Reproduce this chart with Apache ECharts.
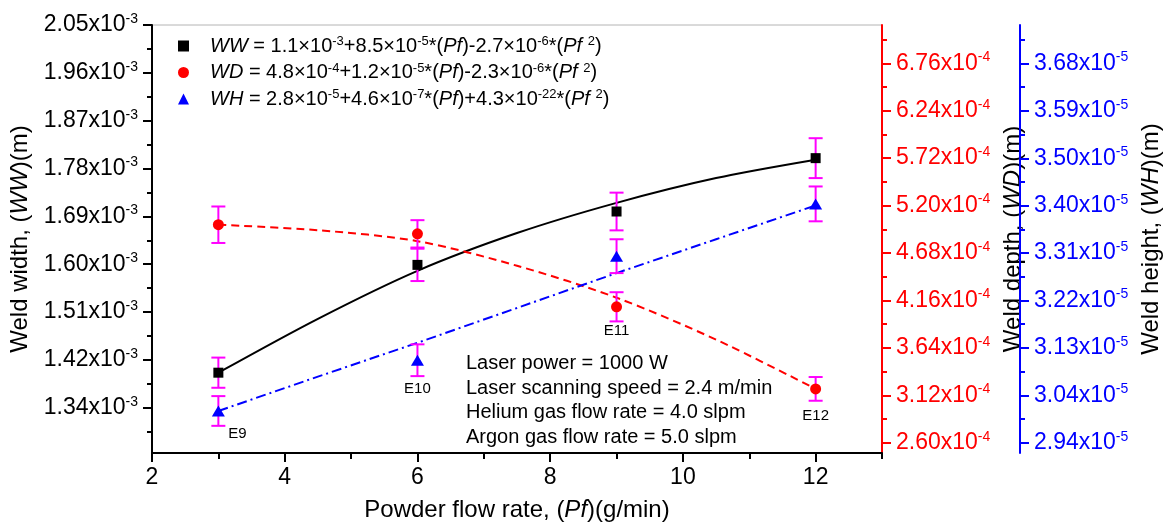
<!DOCTYPE html>
<html>
<head>
<meta charset="utf-8">
<script src="https://cdn.jsdelivr.net/npm/echarts@6/dist/echarts.min.js"></script>
<style>
  html, body { margin: 0; padding: 0; background: #fff; }
  #chart { width: 1163px; height: 522px; }
</style>
</head>
<body>
<div id="chart"></div>
<script>
// powder flow rate (g/min) of the four runs
const flowRate = [3, 6, 9, 12];
const runLabels = ['E9', 'E10', 'E11', 'E12'];
const runLabelHost = ['WH', 'WH', 'WD', 'WD'];

// measured bead sizes (m) and error half-widths
const weldWidth = [1.405e-3, 1.605e-3, 1.704e-3, 1.803e-3];
const weldWidthErr = [0.028e-3, 0.030e-3, 0.035e-3, 0.037e-3];
const weldDepth = [4.99e-4, 4.89e-4, 4.09e-4, 3.19e-4];
const weldDepthErr = [0.20e-4, 0.15e-4, 0.16e-4, 0.13e-4];
const weldHeight = [3.002e-5, 3.101e-5, 3.304e-5, 3.406e-5];
const weldHeightErr = [0.029e-5, 0.031e-5, 0.033e-5, 0.034e-5];

// regression curves
const fitX = [3, 4.5, 6, 7.5, 9, 10.5, 12];
const wwFit = [1.405e-3, 1.505e-3, 1.594e-3, 1.664e-3, 1.720e-3, 1.766e-3, 1.800e-3];
const wdFit = [4.99e-4, 4.93e-4, 4.81e-4, 4.54e-4, 4.19e-4, 3.73e-4, 3.19e-4];
const whFit = [3.002e-5, 3.069e-5, 3.135e-5, 3.203e-5, 3.271e-5, 3.337e-5, 3.403e-5];

// tick labels
const xTicks = [2, 4, 6, 8, 10, 12];
const wwTicks = ['1.34', '1.42', '1.51', '1.60', '1.69', '1.78', '1.87', '1.96', '2.05'];
const wdTicks = ['2.60', '3.12', '3.64', '4.16', '4.68', '5.20', '5.72', '6.24', '6.76'];
const whTicks = ['2.94', '3.04', '3.13', '3.22', '3.31', '3.40', '3.50', '3.59', '3.68'];

const legendNames = ['WW', 'WD', 'WH'];
const legendIcons = ['rect', 'circle', 'triangle'];
const legendFormulas = [
  '{p| }{i|WW}{t| = 1.1×10}{s|-3}{t|+8.5×10}{s|-5}{t|*(}{i|Pf}{t|)-2.7×10}{s|-6}{t|*(}{i|Pf }{s|2}{t|)}',
  '{p| }{i|WD}{t| = 4.8×10}{s|-4}{t|+1.2×10}{s|-5}{t|*(}{i|Pf}{t|)-2.3×10}{s|-6}{t|*(}{i|Pf }{s|2}{t|)}',
  '{p| }{i|WH}{t| = 2.8×10}{s|-5}{t|+4.6×10}{s|-7}{t|*(}{i|Pf}{t|)+4.3×10}{s|-22}{t|*(}{i|Pf }{s|2}{t|)}'
];
const conditions = [
  'Laser power = 1000 W',
  'Laser scanning speed = 2.4 m/min',
  'Helium gas flow rate = 4.0 slpm',
  'Argon gas flow rate = 5.0 slpm'
];

const FONT = '"Liberation Sans", Arial, sans-serif';
const RED = '#ff0000';
const BLUE = '#0000ff';
const MAGENTA = '#ff00ff';

function evenTicks(labels, first, step) {
  return labels.map((_, k) => Number((first + k * step).toPrecision(10)));
}

// one y axis drawn as a labelled axis plus an overlay carrying the short minor ticks
function yAxisPair(cfg) {
  const major = evenTicks(cfg.labels, cfg.first, cfg.step);
  const minor = [major[0] - cfg.step / 2].concat(major.map(v => v + cfg.step / 2))
    .filter(v => v >= cfg.min && v <= cfg.max);
  const main = {
    type: 'value', position: cfg.position, offset: cfg.offset,
    min: cfg.min, max: cfg.max,
    name: cfg.name, nameLocation: 'middle', nameRotate: 90, nameGap: cfg.nameGap,
    nameTextStyle: {
      rich: {
        n: { fontFamily: FONT, fontSize: 24, color: '#000' },
        i: { fontFamily: FONT, fontSize: 24, color: '#000', fontStyle: 'italic' }
      }
    },
    axisLine: { show: true, onZero: false, lineStyle: { color: cfg.color, width: 2 } },
    axisTick: { show: true, customValues: major, length: 9, lineStyle: { color: cfg.color, width: 2 } },
    axisLabel: {
      customValues: major, margin: 14,
      formatter: v => {
        const k = Math.round((v - cfg.first) / cfg.step);
        return cfg.labels[k] ? '{b|' + cfg.labels[k] + 'x10}{s|' + cfg.exp + '}' : '';
      },
      rich: {
        b: { fontFamily: FONT, fontSize: 23, lineHeight: 26, color: cfg.color },
        s: { fontFamily: FONT, fontSize: 14, color: cfg.color, verticalAlign: 'top' }
      }
    },
    splitLine: { show: false }
  };
  const over = {
    type: 'value', position: cfg.position, offset: cfg.offset,
    min: cfg.min, max: cfg.max,
    axisLine: { show: false, onZero: false },
    axisTick: { show: true, customValues: minor, length: 5, lineStyle: { color: cfg.color, width: 2 } },
    axisLabel: { show: false },
    splitLine: { show: false }
  };
  return [main, over];
}

function errorSeries(name, yIndex, values, errs) {
  return {
    name: name, type: 'custom', yAxisIndex: yIndex, z: 3,
    data: flowRate.map((x, i) => [x, values[i] - errs[i], values[i] + errs[i]]),
    renderItem: (params, api) => {
      const lo = api.coord([api.value(0), api.value(1)]);
      const hi = api.coord([api.value(0), api.value(2)]);
      const w = 7;
      const style = { stroke: MAGENTA, lineWidth: 2 };
      return {
        type: 'group',
        children: [
          { type: 'line', shape: { x1: lo[0], y1: lo[1], x2: hi[0], y2: hi[1] }, style: style },
          { type: 'line', shape: { x1: lo[0] - w, y1: lo[1], x2: lo[0] + w, y2: lo[1] }, style: style },
          { type: 'line', shape: { x1: hi[0] - w, y1: hi[1], x2: hi[0] + w, y2: hi[1] }, style: style }
        ]
      };
    }
  };
}

// label placement for E9..E12: [horizontal shift, distance below marker]
const runLabelPlace = [[19, 10], [0, 16], [0, 11], [0, 14]];

function pointData(key, values) {
  return flowRate.map((x, i) => {
    const item = { value: [x, values[i]] };
    if (runLabelHost[i] === key) {
      item.label = {
        show: true, position: 'bottom', formatter: runLabels[i],
        distance: runLabelPlace[i][1], offset: [runLabelPlace[i][0], 0],
        fontFamily: FONT, fontSize: 15, color: '#000'
      };
    }
    return item;
  });
}

const chart = echarts.init(document.getElementById('chart'));

chart.setOption({
  animation: false,
  backgroundColor: '#fff',
  grid: {
    left: 152, right: 281, top: 25, bottom: 69,
    outerBoundsMode: 'none',
    show: true, borderColor: '#b4b4b4', borderWidth: 1
  },
  legend: {
    data: legendNames.map((n, i) => ({ name: n, icon: legendIcons[i] })),
    orient: 'vertical',
    left: 178, top: 35, padding: 0,
    itemWidth: 11, itemHeight: 11, itemGap: 5.5,
    formatter: name => legendFormulas[legendNames.indexOf(name)],
    textStyle: {
      rich: {
        p: { width: 16, fontSize: 20 },
        t: { fontFamily: FONT, fontSize: 20, lineHeight: 22, color: '#000' },
        i: { fontFamily: FONT, fontSize: 20, lineHeight: 22, color: '#000', fontStyle: 'italic' },
        s: { fontFamily: FONT, fontSize: 13, color: '#000', verticalAlign: 'top' }
      }
    }
  },
  xAxis: [
    {
      type: 'value', position: 'bottom', min: 2, max: 13,
      name: '{n|Powder flow rate, (}{i|Pf}{n|)(g/min)}',
      nameLocation: 'middle', nameGap: 45,
      nameTextStyle: {
        rich: {
          n: { fontFamily: FONT, fontSize: 24, color: '#000' },
          i: { fontFamily: FONT, fontSize: 24, color: '#000', fontStyle: 'italic' }
        }
      },
      axisLine: { onZero: false, lineStyle: { color: '#000', width: 2 } },
      axisTick: { customValues: xTicks, length: 9, lineStyle: { color: '#000', width: 2 } },
      axisLabel: { customValues: xTicks, margin: 13, fontFamily: FONT, fontSize: 23, color: '#000' },
      splitLine: { show: false }
    },
    {
      type: 'value', position: 'bottom', min: 2, max: 13,
      axisLine: { show: false, onZero: false },
      axisTick: { customValues: xTicks.map(v => v + 1), length: 6, lineStyle: { color: '#000', width: 2 } },
      axisLabel: { show: false },
      splitLine: { show: false }
    }
  ],
  yAxis: [].concat(
    yAxisPair({
      position: 'left', offset: 0, min: 1.256e-3, max: 2.05e-3,
      first: 1.34e-3, step: 0.08875e-3, labels: wwTicks, exp: '-3', color: '#000',
      name: '{n|Weld width, (}{i|WW}{n|)(m)}', nameGap: 116
    }),
    yAxisPair({
      position: 'right', offset: 0, min: 2.487e-4, max: 7.18e-4,
      first: 2.60e-4, step: 0.52e-4, labels: wdTicks, exp: '-4', color: RED,
      name: '{n|Weld depth, (}{i|WD}{n|)(m)}', nameGap: 106
    }),
    yAxisPair({
      position: 'right', offset: 138, min: 2.92e-5, max: 3.755e-5,
      first: 2.94e-5, step: 0.0925e-5, labels: whTicks, exp: '-5', color: BLUE,
      name: '{n|Weld height, (}{i|WH}{n|)(m)}', nameGap: 119
    })
  ),
  graphic: [{
    type: 'text', left: 466, top: 351,
    style: {
      text: conditions.join('\n'),
      fontFamily: FONT, fontSize: 20, lineHeight: 24.7, fill: '#000'
    }
  }],
  series: [
    {
      name: 'WW fit', type: 'line', yAxisIndex: 0, z: 2, smooth: 0.3, showSymbol: false,
      data: fitX.map((x, i) => [x, wwFit[i]]),
      lineStyle: { color: '#000', width: 2 }
    },
    {
      name: 'WD fit', type: 'line', yAxisIndex: 2, z: 2, smooth: 0.3, showSymbol: false,
      data: fitX.map((x, i) => [x, wdFit[i]]),
      lineStyle: { color: RED, width: 2, type: [8, 5] }
    },
    {
      name: 'WH fit', type: 'line', yAxisIndex: 4, z: 2, showSymbol: false,
      data: fitX.map((x, i) => [x, whFit[i]]),
      lineStyle: { color: BLUE, width: 2, type: [10, 4, 2, 4] }
    },
    errorSeries('WW err', 0, weldWidth, weldWidthErr),
    errorSeries('WD err', 2, weldDepth, weldDepthErr),
    errorSeries('WH err', 4, weldHeight, weldHeightErr),
    {
      name: 'WW', type: 'scatter', yAxisIndex: 0, z: 4,
      symbol: 'rect', symbolSize: 10, itemStyle: { color: '#000', opacity: 1 },
      data: pointData('WW', weldWidth)
    },
    {
      name: 'WD', type: 'scatter', yAxisIndex: 2, z: 4,
      symbol: 'circle', symbolSize: 11, itemStyle: { color: RED, opacity: 1 },
      data: pointData('WD', weldDepth)
    },
    {
      name: 'WH', type: 'scatter', yAxisIndex: 4, z: 4,
      symbol: 'triangle', symbolSize: [13, 11], itemStyle: { color: BLUE, opacity: 1 },
      data: pointData('WH', weldHeight)
    }
  ]
});
</script>
</body>
</html>
